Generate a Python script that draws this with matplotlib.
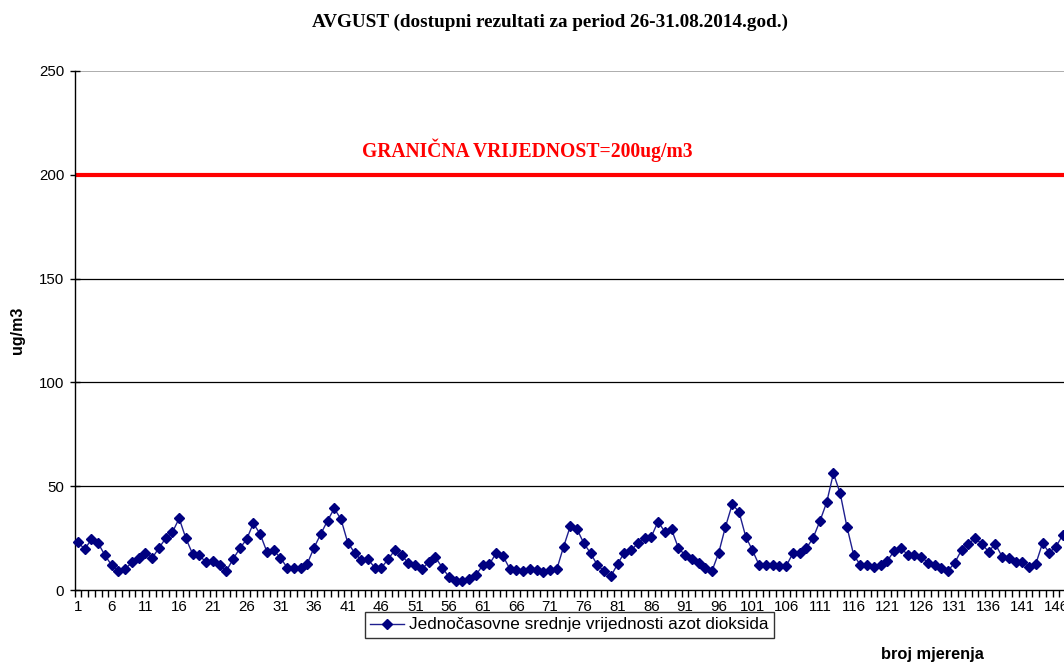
import matplotlib
matplotlib.use("Agg")
import matplotlib.pyplot as plt
from matplotlib.ticker import FixedLocator, NullFormatter

values = [23.0, 19.7, 24.4, 22.5, 16.7, 11.9, 9.2, 10.1, 13.3, 15.6,
          18.0, 15.4, 20.2, 24.9, 27.8, 34.5, 24.9, 17.3, 16.7, 13.3,
          14.0, 11.9, 9.2, 14.9, 20.1, 24.4, 32.1, 27.0, 18.5, 19.1,
          15.6, 10.8, 10.4, 10.4, 12.7, 20.4, 27.0, 33.4, 39.3, 34.0,
          22.8, 18.0, 14.3, 14.8, 10.8, 10.8, 14.9, 19.3, 16.7, 12.9,
          12.0, 10.1, 13.5, 15.7, 10.8, 6.3, 4.3, 4.3, 5.1, 7.2,
          11.9, 12.5, 17.7, 16.5, 10.3, 9.5, 9.3, 10.1, 9.6, 8.5,
          9.6, 10.1, 20.9, 30.8, 29.2, 22.5, 17.7, 12.0, 9.2, 6.6,
          12.5, 18.0, 19.1, 22.5, 25.2, 25.7, 32.9, 28.1, 29.2, 20.4,
          16.7, 14.9, 13.2, 10.4, 9.2, 18.0, 30.5, 41.3, 37.7, 25.7,
          19.1, 11.9, 11.9, 11.9, 11.6, 11.6, 17.7, 17.7, 20.1, 25.2,
          33.2, 42.2, 56.2, 46.6, 30.5, 16.9, 12.0, 12.0, 11.2, 12.0,
          14.0, 18.9, 20.4, 16.9, 16.9, 16.1, 13.2, 12.0, 10.8, 9.3,
          13.2, 19.3, 22.2, 24.9, 22.2, 18.5, 22.2, 16.1, 15.6, 13.3,
          13.3, 11.2, 12.5, 22.5, 18.0, 20.9, 26.5]
x = list(range(1, len(values) + 1))
limit_value = 200
y_ticks = [0, 50, 100, 150, 200, 250]
x_tick_labels = list(range(1, 147, 5))

title = "AVGUST (dostupni rezultati za period 26-31.08.2014.god.)"
limit_label = "GRANIČNA VRIJEDNOST=200ug/m3"
series_label = "Jednočasovne srednje vrijednosti azot dioksida"
y_label = "ug/m3"
x_label = "broj mjerenja"

W, H = 1064, 664
fig = plt.figure(figsize=(W / 100, H / 100), dpi=100)
left_px, right_px, top_px, bottom_px = 74.6, 1064, 71, 590
ax = fig.add_axes([left_px / W, 1 - bottom_px / H,
                   (right_px - left_px) / W, (bottom_px - top_px) / H])

px_per_unit = 6.745
ax.set_xlim(0.5, 0.5 + (right_px - left_px) / px_per_unit)
ax.set_ylim(0, 250)

for yv in [50, 100, 150]:
    ax.axhline(yv, color="black", linewidth=0.9, zorder=1)
ax.axhline(250, color="#a0a0a0", linewidth=1.2, zorder=1)
ax.axhline(limit_value, color="#ff0000", linewidth=3, zorder=2)

ax.plot(x, values, color="#1f1f8f", linewidth=1.0, marker="D",
        markersize=4.8, markerfacecolor="#000080", markeredgecolor="#000080",
        label=series_label, zorder=3, clip_on=False)

for s in ["top", "right"]:
    ax.spines[s].set_visible(False)
ax.spines["left"].set_linewidth(1.0)
ax.spines["bottom"].set_linewidth(1.0)

ax.set_yticks(y_ticks)
ax.tick_params(axis="y", direction="inout", length=7, width=1,
               labelsize=10.8, pad=4)
ax.set_xticks(x_tick_labels)
ax.set_xticklabels([str(v) for v in x_tick_labels])
ax.tick_params(axis="x", which="major", length=0, labelsize=10.8, pad=7)
ax.xaxis.set_minor_locator(FixedLocator([i + 0.5 for i in range(0, 160)]))
ax.xaxis.set_minor_formatter(NullFormatter())
ax.tick_params(axis="x", which="minor", direction="out", length=5, width=1)
for lab in ax.get_xticklabels() + ax.get_yticklabels():
    lab.set_family("Liberation Sans")

fig.text(550 / W, 1 - 22 / H, title, ha="center", va="center",
         fontsize=13.8, fontweight="bold", family="Liberation Serif")
fig.text(527 / W, 1 - 150 / H, limit_label, ha="center", va="center",
         fontsize=14.1, fontweight="bold", color="#ff0000",
         family="Liberation Serif")
fig.text(18 / W, 1 - 330 / H, y_label, rotation=90, ha="center",
         va="center", fontsize=11.5, fontweight="bold",
         family="Liberation Sans")
fig.text(932 / W, 1 - 655 / H, x_label, ha="center", va="center",
         fontsize=11.8, fontweight="bold", family="Liberation Sans")

leg = fig.legend(loc="center", bbox_to_anchor=(569.5 / W, 1 - 625 / H),
                 frameon=True, fancybox=False, edgecolor="black",
                 prop={"family": "Liberation Sans", "size": 12.3},
                 handlelength=2.0, borderpad=0.3, handletextpad=0.3)
leg.get_frame().set_linewidth(1.0)

fig.savefig("out.png", dpi=100)
